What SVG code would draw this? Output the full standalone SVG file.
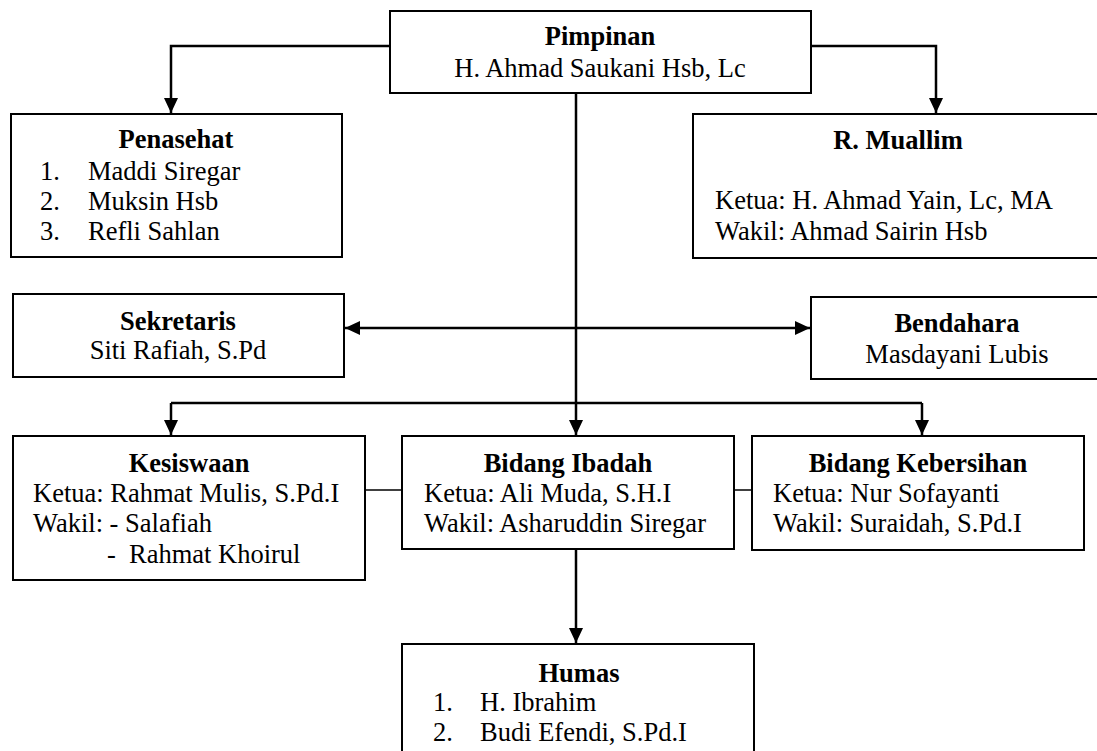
<svg xmlns="http://www.w3.org/2000/svg" width="1097" height="751" viewBox="0 0 1097 751">
<style>
text{font-family:"Liberation Serif","Times New Roman",serif;font-size:26.5px;fill:#000}
.t{font-weight:bold;text-anchor:middle}
.c{text-anchor:middle}
.box{fill:#fff;stroke:#000;stroke-width:2}
.con{fill:none;stroke:#000;stroke-width:2.5}
.thin{fill:none;stroke:#000;stroke-width:1.5}
</style>
<defs>
<marker id="ah" markerUnits="userSpaceOnUse" markerWidth="16" markerHeight="16" viewBox="0 0 16 16" refX="15" refY="8" orient="auto-start-reverse">
<path d="M0,1 L15,8 L0,15 Z" fill="#000"/>
</marker>
</defs>
<rect width="1097" height="751" fill="#fff"/>
<g id="connectors">
<path class="con" d="M390,46 H171 V113" marker-end="url(#ah)"/>
<path class="con" d="M811,46 H936 V113" marker-end="url(#ah)"/>
<path class="con" d="M576,93 V435" marker-end="url(#ah)"/>
<path class="con" d="M345,328 H810" marker-start="url(#ah)" marker-end="url(#ah)"/>
<path class="con" d="M171,403 H922"/>
<path class="con" d="M171,403 V435" marker-end="url(#ah)"/>
<path class="con" d="M922,403 V435" marker-end="url(#ah)"/>
<path class="thin" d="M365,490 H402"/>
<path class="thin" d="M734,490 H752"/>
<path class="con" d="M576,549 V643" marker-end="url(#ah)"/>
</g>
<g id="pimpinan">
<rect class="box" x="390" y="11" width="421" height="82"/>
<text class="t" x="600" y="45">Pimpinan</text>
<text class="c" x="600" y="77">H. Ahmad Saukani Hsb, Lc</text>
</g>
<g id="penasehat">
<rect class="box" x="11" y="114" width="331" height="143"/>
<text class="t" x="176" y="148">Penasehat</text>
<text x="40" y="180">1.</text><text x="88" y="180">Maddi Siregar</text>
<text x="40" y="210">2.</text><text x="88" y="210">Muksin Hsb</text>
<text x="40" y="240">3.</text><text x="88" y="240">Refli Sahlan</text>
</g>
<g id="muallim">
<rect class="box" x="693" y="114" width="420" height="144"/>
<text class="t" x="898" y="149">R. Muallim</text>
<text x="715" y="209">Ketua: H. Ahmad Yain, Lc, MA</text>
<text x="715" y="240">Wakil: Ahmad Sairin Hsb</text>
</g>
<g id="sekretaris">
<rect class="box" x="13" y="294" width="331" height="83"/>
<text class="t" x="178" y="330">Sekretaris</text>
<text class="c" x="178" y="359">Siti Rafiah, S.Pd</text>
</g>
<g id="bendahara">
<rect class="box" x="811" y="297" width="300" height="82"/>
<text class="t" x="957" y="332">Bendahara</text>
<text class="c" x="957" y="363">Masdayani Lubis</text>
</g>
<g id="kesiswaan">
<rect class="box" x="13" y="436" width="352" height="144"/>
<text class="t" x="189" y="472">Kesiswaan</text>
<text x="33" y="502">Ketua: Rahmat Mulis, S.Pd.I</text>
<text x="33" y="532">Wakil: - Salafiah</text>
<text x="107" y="563">-</text><text x="129" y="563">Rahmat Khoirul</text>
</g>
<g id="ibadah">
<rect class="box" x="402" y="436" width="332" height="113"/>
<text class="t" x="568" y="472">Bidang Ibadah</text>
<text x="424" y="502">Ketua: Ali Muda, S.H.I</text>
<text x="424" y="532">Wakil: Asharuddin Siregar</text>
</g>
<g id="kebersihan">
<rect class="box" x="752" y="436" width="332" height="114"/>
<text class="t" x="918" y="472">Bidang Kebersihan</text>
<text x="773" y="502">Ketua: Nur Sofayanti</text>
<text x="773" y="532">Wakil: Suraidah, S.Pd.I</text>
</g>
<g id="humas">
<rect class="box" x="402" y="644" width="352" height="130"/>
<text class="t" x="579" y="682">Humas</text>
<text x="433" y="711">1.</text><text x="480" y="711">H. Ibrahim</text>
<text x="433" y="741">2.</text><text x="480" y="741">Budi Efendi, S.Pd.I</text>
</g>
</svg>
